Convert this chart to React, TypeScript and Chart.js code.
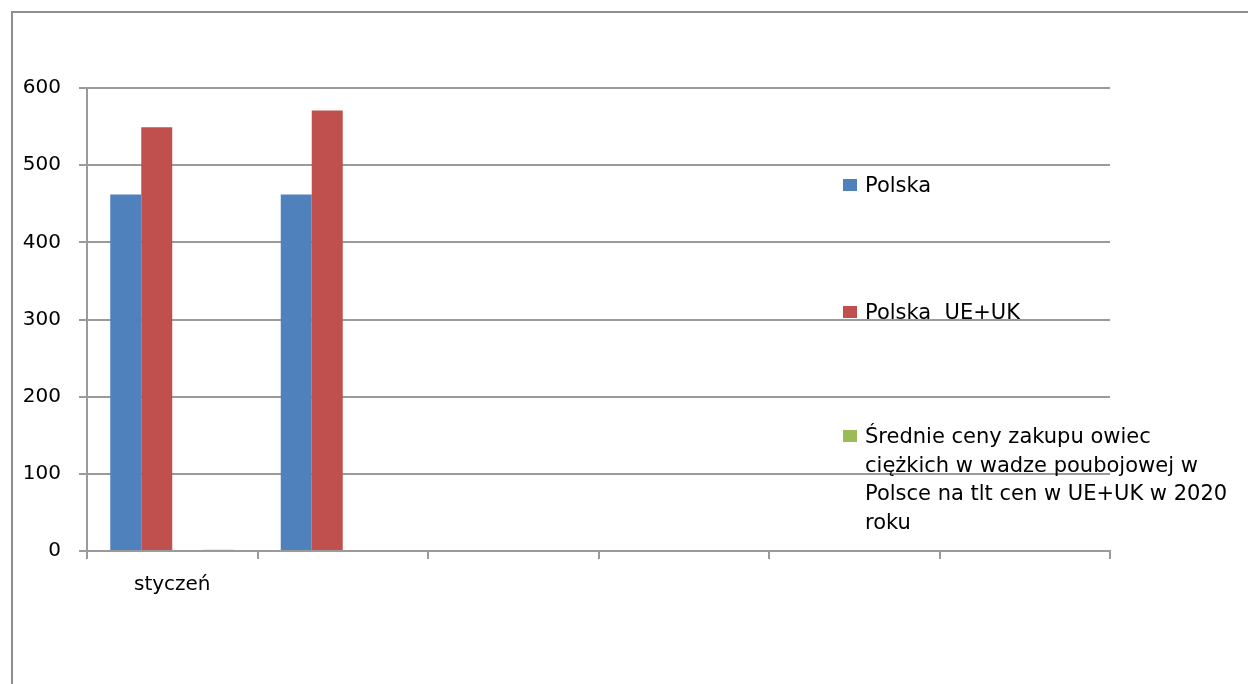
import React, { useEffect, useRef } from "react";
import { Chart, registerables } from "chart.js";

Chart.register(...registerables);

const categories = ["styczeń", "", "", "", "", ""];
const polska = [462, 462, null, null, null, null];
const polskaUeUk = [549, 571, null, null, null, null];
const srednie = [0, null, null, null, null, null];
const extraSeries = [1.5, null, null, null, null, null];
const yTicks = [0, 100, 200, 300, 400, 500, 600];

const seriesNames = ["Polska", "Polska  UE+UK", "Średnie ceny zakupu owiec ciężkich w wadze poubojowej w Polsce na tlt cen w UE+UK w 2020 roku"];
const legendLines = [
  ["Polska"],
  ["Polska  UE+UK"],
  ["Średnie ceny zakupu owiec", "ciężkich w wadze poubojowej w", "Polsce na tlt cen w UE+UK w 2020", "roku"],
];
const colors = ["#4F81BD", "#C0504D", "#9BBB59", "#8064A2"];

const FONT = "'DejaVu Sans', sans-serif";
const GRID = "#9a9a9a";

export default function App() {
  const ref = useRef<HTMLCanvasElement | null>(null);

  useEffect(() => {
    if (!ref.current) return;
    const chart = new Chart(ref.current, {
      type: "bar",
      data: {
        labels: categories,
        datasets: [
          { label: seriesNames[0], data: polska, backgroundColor: colors[0] },
          { label: seriesNames[1], data: polskaUeUk, backgroundColor: colors[1] },
          { label: seriesNames[2], data: srednie, backgroundColor: colors[2] },
          { label: "", data: extraSeries, backgroundColor: colors[3] },
        ] as any,
      },
      options: {
        responsive: false,
        animation: false,
        datasets: { bar: { categoryPercentage: 4 / 5.5, barPercentage: 1, borderWidth: 0 } },
        layout: { padding: { top: 88, right: 138, left: 0, bottom: 0 } },
        plugins: { legend: { display: false }, tooltip: { enabled: false } },
        scales: {
          x: {
            afterFit: (s: any) => { s.height = 133; },
            grid: { display: true, drawOnChartArea: false, drawTicks: true, tickLength: 8, offset: true, color: GRID, lineWidth: 2 },
            border: { display: true, color: GRID, width: 2 },
            ticks: { color: "#000", font: { family: FONT, size: 20 }, padding: 14, maxRotation: 0, autoSkip: false },
          },
          y: {
            min: 0,
            max: 600,
            afterFit: (s: any) => { s.width = 87; },
            afterBuildTicks: (s: any) => { s.ticks = yTicks.map((v) => ({ value: v })); },
            grid: { color: GRID, lineWidth: 2, drawTicks: true, tickLength: 8 },
            border: { display: true, color: GRID, width: 2 },
            ticks: { color: "#000", font: { family: FONT, size: 20 }, padding: 18 },
          },
        },
      },
    });
    return () => chart.destroy();
  }, []);

  const legendTops = [171, 298, 422];

  return (
    <div style={{ position: "fixed", left: 0, top: 0, width: 1248, height: 684, overflow: "hidden", background: "#fff" }}>
      <div style={{ position: "absolute", left: 11, top: 11, width: 1400, height: 800, border: "2px solid #8f8f8f" }} />
      <canvas ref={ref} width={1248} height={684} style={{ position: "absolute", left: 0, top: 0 }} />
      {legendLines.map((lines, i) => (
        <div key={i} style={{ position: "absolute", left: 843, top: legendTops[i], fontFamily: FONT, fontSize: 21, lineHeight: "28.5px", color: "#000" }}>
          <span style={{ position: "absolute", left: 0, top: 8, width: 14, height: 12, background: colors[i] }} />
          <div style={{ marginLeft: 22, whiteSpace: "pre" }}>
            {lines.map((l, j) => (
              <div key={j}>{l}</div>
            ))}
          </div>
        </div>
      ))}
    </div>
  );
}
